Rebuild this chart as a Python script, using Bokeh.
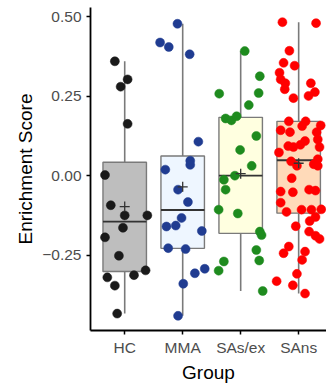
import numpy as np
from bokeh.plotting import figure
from bokeh.models import FixedTicker, Range1d, ColumnDataSource
from bokeh.embed import file_html
from bokeh.resources import INLINE

groups = ["HC", "MMA", "SAs/ex", "SAns"]

hc = [0.360, 0.303, 0.280, 0.163, 0.002, -0.093, -0.125, -0.125, -0.164, -0.194,
      -0.252, -0.298, -0.313, -0.320, -0.346, -0.434]
mma = [0.478, 0.419, 0.405, 0.382, 0.107, 0.047, 0.034, 0.019, -0.044, -0.083,
       -0.133, -0.160, -0.157, -0.174, -0.228, -0.231, -0.293, -0.307, -0.340, -0.441]
sas_ex = [0.392, 0.313, 0.258, 0.260, 0.222, 0.180, 0.174, 0.187, 0.125, 0.081,
          0.031, 0.000, -0.013, -0.044, -0.107, -0.119, -0.176, -0.187, -0.234,
          -0.270, -0.267, -0.299, -0.363]
sans = [0.483, 0.480, 0.393, 0.355, 0.346, 0.324, 0.303, 0.291, 0.272, 0.291,
        0.263, 0.251, 0.244,
        0.171, 0.171, 0.156, 0.143, 0.137, 0.158, 0.137, 0.114, 0.109, 0.097,
        0.093, 0.090, 0.090, 0.073, 0.052, 0.045, 0.031, 0.036, 0.031, -0.008,
        -0.050, -0.052, -0.044, -0.047, -0.085,
        -0.114, -0.107, -0.107, -0.106, -0.130, -0.143, -0.159, -0.176, -0.189,
        -0.199, -0.223, -0.244, -0.239, -0.265, -0.309, -0.332, -0.345, -0.371]

# horizontal jitter of each point (in category widths)
hc_jit = [-0.17, 0.05, -0.07, 0.05, -0.34, -0.24, 0.0, 0.39, -0.03, -0.34, -0.10,
          0.36, 0.16, -0.30, -0.17, -0.13]
mma_jit = [-0.09, -0.39, -0.24, 0.12, 0.27, 0.13, 0.13, -0.30, -0.08, 0.09, -0.02,
           -0.28, -0.12, 0.33, -0.25, 0.05, 0.38, 0.21, 0.01, -0.08]
sas_ex_jit = [0.07, 0.33, -0.37, 0.31, 0.14, -0.26, -0.16, -0.07, 0.27, -0.01, 0.19,
              -0.10, -0.29, -0.26, -0.38, -0.05, 0.33, 0.36, 0.27, -0.29, 0.32,
              -0.38, 0.38]
sans_jit = [-0.28, 0.30, -0.16, -0.26, -0.07, -0.33, -0.31, -0.23, -0.24, 0.21, 0.28,
            0.17, -0.09, -0.17, 0.12, 0.06, -0.31, -0.15, 0.38, 0.31, 0.33, 0.11,
            0.03, -0.18, -0.09, 0.36, -0.34, 0.33, -0.13, -0.03, 0.26, 0.33, -0.12,
            -0.31, -0.10, 0.18, 0.29, -0.31, -0.21, 0.05, 0.22, 0.39, 0.29, 0.19,
            -0.05, 0.18, 0.29, 0.36, -0.17, -0.26, 0.11, 0.06, -0.03, -0.38, -0.10,
            0.11]

point_colors = ["#1A1A1A", "#203C91", "#1E8B1E", "#FF0000"]
box_fills = ["#BEBEBE", "#EEF6FF", "#FFFFE0", "#FFDAB9"]

values = [hc, mma, sas_ex, sans]
jitters = [hc_jit, mma_jit, sas_ex_jit, sans_jit]

allv = np.concatenate([np.array(v) for v in values])
span = allv.max() - allv.min()
ylo, yhi = allv.min() - 0.05 * span, allv.max() + 0.05 * span

FONT = "Liberation Sans"

p = figure(width=326, height=385, output_backend="svg", toolbar_location=None,
           x_range=Range1d(0.41, 4.48), y_range=Range1d(ylo, yhi),
           min_border_left=90, min_border_right=0, min_border_top=7,
           min_border_bottom=53)
p.outline_line_color = None
p.xgrid.visible = False
p.ygrid.visible = False
p.background_fill_color = "white"
p.border_fill_color = "white"

# box stats
q1s, meds, q3s, lo_w, hi_w, means, xs = [], [], [], [], [], [], []
for i, v in enumerate(values):
    a = np.array(v)
    q1, med, q3 = np.percentile(a, [25, 50, 75])
    iqr = q3 - q1
    lw = a[a >= q1 - 1.5 * iqr].min()
    hw = a[a <= q3 + 1.5 * iqr].max()
    q1s.append(q1); meds.append(med); q3s.append(q3)
    lo_w.append(lw); hi_w.append(hw); means.append(a.mean()); xs.append(i + 1)

bw = 0.375
box_src = ColumnDataSource(dict(x=xs, left=[x - bw for x in xs], right=[x + bw for x in xs],
                                q1=q1s, q3=q3s, med=meds, lw=lo_w, hw=hi_w, mean=means,
                                fill=box_fills))

WHISK = "#7A7A7A"
p.segment(x0="x", y0="q3", x1="x", y1="hw", source=box_src, line_color=WHISK, line_width=1.6)
p.segment(x0="x", y0="q1", x1="x", y1="lw", source=box_src, line_color=WHISK, line_width=1.6)
p.quad(left="left", right="right", bottom="q1", top="q3", source=box_src,
       fill_color="fill", line_color=WHISK, line_width=1.4)
p.segment(x0="left", y0="med", x1="right", y1="med", source=box_src,
          line_color="#333333", line_width=1.8)

for i, (v, j) in enumerate(zip(values, jitters)):
    src = ColumnDataSource(dict(x=[i + 1 + d for d in j], y=v))
    p.scatter("x", "y", source=src, size=9, fill_color=point_colors[i],
              line_color=point_colors[i], line_width=0.5)

p.scatter(x="x", y="mean", source=box_src, marker="cross", size=10,
          line_color="#333333", line_width=1.3)

# axes
for ax in (p.xaxis[0], p.yaxis[0]):
    ax.axis_line_color = "black"
    ax.axis_line_width = 1.8
    ax.major_tick_line_color = "black"
    ax.major_tick_line_width = 1.5
    ax.major_tick_in = 0
    ax.major_tick_out = 4
    ax.minor_tick_line_color = None
    ax.major_label_text_font = FONT
    ax.major_label_text_font_size = "15.5px"
    ax.major_label_text_color = "#4D4D4D"
    ax.axis_label_text_font = FONT
    ax.axis_label_text_font_size = "19px"
    ax.axis_label_text_font_style = "normal"
    ax.axis_label_text_color = "black"

p.xaxis.ticker = FixedTicker(ticks=[1, 2, 3, 4])
p.xaxis.major_label_overrides = {i + 1: g for i, g in enumerate(groups)}
p.xaxis.axis_label = "Group"
p.xaxis.major_label_standoff = 4
p.xaxis.axis_label_standoff = 3

yt = [-0.25, 0.0, 0.25, 0.5]
p.yaxis.ticker = FixedTicker(ticks=yt)
p.yaxis.major_label_overrides = {t: f"{t:.2f}".replace("-", "\u2212") for t in yt}
p.yaxis.axis_label = "Enrichment Score"
p.yaxis.major_label_standoff = 5
p.yaxis.axis_label_standoff = 3

open("out.html", "w").write(file_html(p, INLINE))
